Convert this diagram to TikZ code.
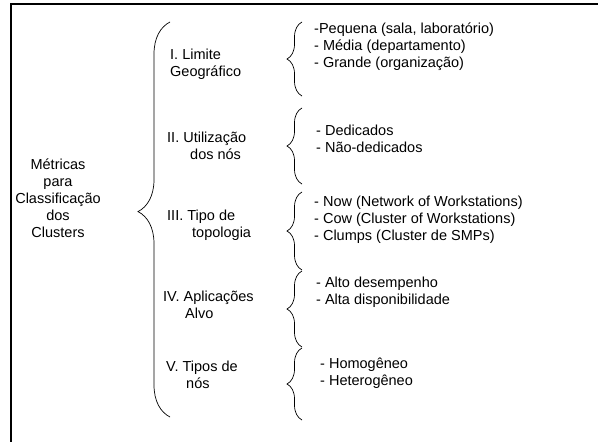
\documentclass[tikz,border=0pt]{standalone}
\usepackage{fontspec}
\setmainfont{Liberation Sans}
\usetikzlibrary{decorations.pathreplacing}

\begin{document}
\begin{tikzpicture}[
    x=1pt, y=-1pt,
    every node/.style={inner sep=0pt, font=\fontsize{14.5}{17}\selectfont},
    txt/.style={align=left, anchor=west},
    bigbrace/.style={decorate, decoration={brace, amplitude=32pt, aspect=0.52}, line width=0.7pt},
    smallbrace/.style={decorate, decoration={brace, amplitude=15pt, aspect=0.5}, line width=0.7pt},
    frame/.style={line width=2pt, line join=miter}
  ]
    \useasboundingbox (0,0) rectangle (598,442);
    \draw[frame] (600,4) -- (11,4) -- (11,444);

    \node[align=center] (root) at (58,198) {Métricas\\para\\Classificação\\dos\\Clusters};

    \node[txt] (geo) at (170,64.5) {I. Limite\\Geográfico};
    \node[txt] (uso) at (167,146) {II. Utilização\\\hspace*{23pt}dos nós};
    \node[txt] (topo) at (167,225.5) {III. Tipo de\\\hspace*{25pt}topologia};
    \node[txt] (apl) at (163,304.5) {IV. Aplicações\\\hspace*{22pt}Alvo};
    \node[txt] (tipos) at (166,375) {V. Tipos de\\\hspace*{20pt}nós};

    \node[txt] (geolist) at (314,47) {-Pequena (sala, laboratório)\\- Média (departamento)\\- Grande (organização)};
    \node[txt] (usolist) at (316,139) {- Dedicados\\- Não-dedicados};
    \node[txt] (topolist) at (314,220) {- Now (Network of Workstations)\\- Cow (Cluster of Workstations)\\- Clumps (Cluster de SMPs)};
    \node[txt] (apllist) at (316,292.5) {- Alto desempenho\\- Alta disponibilidade};
    \node[txt] (tiposlist) at (320,373.5) {- Homogêneo\\- Heterogêneo};

    % chaves
    \coordinate (rt) at (170,22);
    \coordinate (rb) at (170,417);
    \coordinate (g1t) at (302,22);
    \coordinate (g1b) at (302,96);
    \coordinate (g2t) at (302,108);
    \coordinate (g2b) at (302,184);
    \coordinate (g3t) at (302,192);
    \coordinate (g3b) at (302,270);
    \coordinate (g4t) at (302,271);
    \coordinate (g4b) at (302,347);
    \coordinate (g5t) at (302,348);
    \coordinate (g5b) at (302,420);

    \draw[bigbrace] (rb) -- (rt);
    \draw[smallbrace] (g1b) -- (g1t);
    \draw[smallbrace] (g2b) -- (g2t);
    \draw[smallbrace] (g3b) -- (g3t);
    \draw[smallbrace] (g4b) -- (g4t);
    \draw[smallbrace] (g5b) -- (g5t);
  \end{tikzpicture}
\end{document}
